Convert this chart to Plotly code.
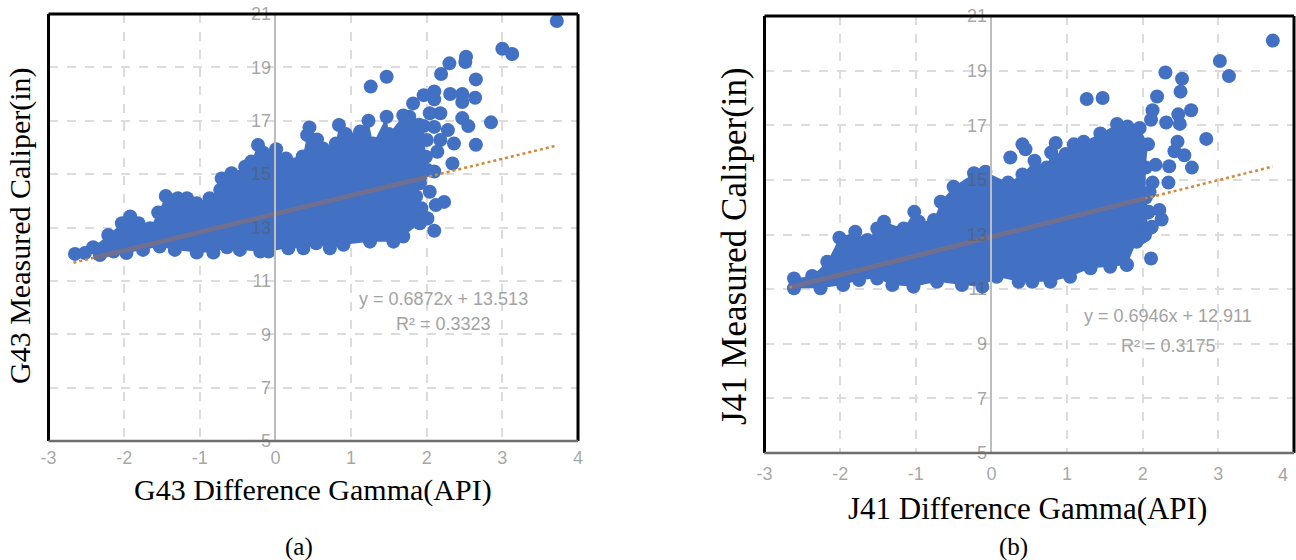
import plotly.graph_objects as go

W, H = 1296, 560
BLUE = "#4270c2"

# Panel (a): silhouette of the merged point mass, traced clockwise from the picture
a_cloud_x = [-2.65,-2.41,-2.21,-2.03,-1.92,-1.81,-1.66,-1.55,-1.45,-1.29,-1.17,-1.04,-0.87,-0.73,-0.71,-0.58,-0.40,-0.32,-0.23,-0.16,0.01,0.14,0.36,0.42,0.45,0.55,0.63,0.80,0.84,0.93,1.12,1.23,1.29,1.47,1.50,1.69,1.96,1.99,2.01,1.91,1.86,1.93,2.00,1.91,1.69,1.56,1.25,0.90,0.72,0.54,0.37,0.17,-0.09,-0.20,-0.47,-0.64,-0.82,-1.04,-1.33,-1.53,-1.75,-1.97,-2.14,-2.32,-2.52]
a_cloud_y = [12.01,12.26,12.72,13.16,13.41,13.16,12.97,13.56,14.18,14.10,14.10,13.91,14.10,14.41,14.84,15.03,15.28,15.47,16.09,15.80,15.93,15.59,15.66,16.46,16.75,16.30,15.96,16.15,16.84,16.50,16.60,17.00,16.15,17.15,16.50,17.20,16.80,15.65,15.15,14.66,14.16,13.72,13.35,13.16,12.66,12.47,12.47,12.35,12.22,12.41,12.22,12.22,12.10,12.10,12.16,12.26,12.06,12.06,12.16,12.29,12.16,12.04,12.10,11.97,12.04]
# Panel (a): separately readable points
a_out_x = [3.72,3.00,3.13,2.52,2.51,2.30,2.19,2.65,1.47,1.26,2.64,2.47,2.47,2.31,2.10,1.96,1.82,2.10,2.85,2.65,2.34,2.10,2.10,2.04,2.23,2.12,2.01,2.47,2.55,2.36,2.28,2.18,2.04,2.14,2.00,2.18,2.10,1.77,1.90,1.69]
a_out_y = [20.74,19.70,19.50,19.40,19.20,19.15,18.75,18.55,18.65,18.28,17.86,18.00,17.70,18.00,18.10,17.96,17.65,17.80,16.94,16.10,15.40,15.10,12.88,14.34,13.96,13.84,13.34,17.10,16.80,16.15,16.65,17.28,17.28,15.84,16.28,16.28,16.77,17.15,16.85,16.40]
a_fit_x = [-2.67, 3.72]
a_fit_y = [11.68, 16.07]
a_fit_in_x = [-2.40, 2.00]
a_fit_in_y = [11.86, 14.89]

# Panel (b)
b_cloud_x = [-2.61,-2.37,-2.17,-2.01,-1.80,-1.64,-1.51,-1.42,-1.16,-1.02,-0.96,-0.76,-0.67,-0.50,-0.23,-0.08,0.22,0.41,0.57,0.73,0.79,0.98,1.09,1.22,1.44,1.66,1.80,1.96,2.07,2.04,2.04,2.08,1.97,2.12,2.03,1.92,1.79,1.57,1.31,1.04,0.78,0.54,0.36,0.07,-0.12,-0.39,-0.72,-1.03,-1.31,-1.51,-1.75,-1.96,-2.26,-2.61]
b_cloud_y = [11.39,11.48,12.00,12.88,13.10,12.80,13.22,13.47,13.22,13.83,13.47,13.53,14.20,14.75,15.24,15.30,14.90,15.20,15.70,15.45,16.00,15.95,16.30,16.40,16.70,17.05,16.95,16.90,16.30,15.45,14.35,13.83,13.53,13.28,12.98,12.73,11.88,11.82,11.76,11.45,11.27,11.27,11.27,11.45,11.09,11.15,11.27,11.09,11.15,11.39,11.33,11.15,11.03,11.03]
b_out_x = [3.72,3.02,3.14,2.30,2.52,2.50,2.19,1.26,1.47,2.64,2.47,2.13,2.11,2.31,2.49,2.84,2.46,2.42,2.55,2.65,2.35,2.17,2.34,2.13,2.09,2.07,2.22,2.25,2.11,1.98,2.11,1.79,0.85,0.25,0.41,0.45]
b_out_y = [20.10,19.35,18.80,18.93,18.70,18.23,18.05,17.96,18.00,17.55,17.40,17.55,17.20,17.10,17.05,16.50,16.40,16.05,15.90,15.45,15.50,15.55,14.90,14.90,14.55,13.80,13.90,13.55,13.25,12.90,12.12,11.90,16.35,15.82,16.30,16.12]
b_fit_x = [-2.67, 3.72]
b_fit_y = [11.06, 15.49]
b_fit_in_x = [-2.64, 2.04]
b_fit_in_y = [11.08, 14.33]

x_ticks = [-3,-2,-1,0,1,2,3,4]
x_tick_text = ["-3","-2","-1","0","1","2","3","4"]
y_ticks = [5,7,9,11,13,15,17,19,21]
x_labels = {"a": "G43 Difference Gamma(API)", "b": "J41 Difference Gamma(API)"}
y_labels = {"a": "G43 Measured Caliper(in)", "b": "J41 Measured Caliper(in)"}
eqs = {"a": ["y = 0.6872x + 13.513", "R² = 0.3323"], "b": ["y = 0.6946x + 12.911", "R² = 0.3175"]}

boxes = {"a": (48.5, 578, 14, 441), "b": (764.5, 1294, 16, 453)}

fig = go.Figure()

def add_panel(xa, ya, cx, cy, ox, oy, fx, fy, fix, fiy):
    fig.add_trace(go.Scatter(x=cx, y=cy, xaxis=xa, yaxis=ya, mode="markers", fill="toself",
                             fillcolor=BLUE, line=dict(width=0), marker=dict(color=BLUE, size=14),
                             showlegend=False))
    fig.add_trace(go.Scatter(x=ox, y=oy, xaxis=xa, yaxis=ya, mode="markers",
                             marker=dict(color=BLUE, size=14), showlegend=False))
    fig.add_trace(go.Scatter(x=fx, y=fy, xaxis=xa, yaxis=ya, mode="lines",
                             line=dict(color="#d0883a", width=2.5, dash="dot"), showlegend=False))
    fig.add_trace(go.Scatter(x=fix, y=fiy, xaxis=xa, yaxis=ya, mode="lines",
                             line=dict(color="#6f6f92", width=5), showlegend=False))

add_panel("x", "y", a_cloud_x, a_cloud_y, a_out_x, a_out_y, a_fit_x, a_fit_y, a_fit_in_x, a_fit_in_y)
add_panel("x2", "y2", b_cloud_x, b_cloud_y, b_out_x, b_out_y, b_fit_x, b_fit_y, b_fit_in_x, b_fit_in_y)

TICK = dict(family="Liberation Sans", size=18, color="rgba(90,90,90,0.55)")
GRID = dict(showgrid=True, gridcolor="#dcdcdc", griddash="dash", gridwidth=1.5, zeroline=False, automargin=False)

def axes(key, yname, standoff):
    l, r, t, b = boxes[key]
    xax = dict(domain=[l / W, r / W], range=[-3, 4], tickmode="array", tickvals=x_ticks, ticktext=x_tick_text,
               ticks="", tickfont=TICK, anchor=yname, ticklabelstandoff=standoff, **GRID)
    zero_x = (l + (r - l) * 3 / 7) / W
    yax = dict(domain=[(H - b) / H, (H - t) / H], range=[5, 21], tickvals=y_ticks, ticks="", tickfont=TICK,
               anchor="free", position=zero_x, showline=True, linecolor="#bdbdbd", linewidth=1.5, **GRID)
    return xax, yax

xa1, ya1 = axes("a", "y", 4)
xa2, ya2 = axes("b", "y2", 8)
fig.update_layout(width=W, height=H, margin=dict(l=0, r=0, t=0, b=0, autoexpand=False), paper_bgcolor="white",
                  plot_bgcolor="white", showlegend=False,
                  xaxis=xa1, yaxis=ya1, xaxis2=xa2, yaxis2=ya2)

shapes = []
for key, (xn, yn) in {"a": ("x", "y"), "b": ("x2", "y2")}.items():
    xr, yr = f"{xn} domain", f"{yn} domain"
    for (x0, y0, x1, y1, c, w) in [(0, 0, 0, 1, "#000000", 3), (0, 1, 1, 1, "#000000", 3), (1, 0, 1, 1, "#000000", 3), (0, 0, 1, 0, "#6e6e6e", 2.5)]:
        shapes.append(dict(type="line", xref=xr, yref=yr, x0=x0, y0=y0, x1=x1, y1=y1,
                           line=dict(color=c, width=w), layer="above"))
fig.update_layout(shapes=shapes)

SERIF = "Liberation Serif, Times New Roman, serif"
def note(text, px, py, size, color="#000000", family=SERIF, angle=0):
    fig.add_annotation(text=text, xref="paper", yref="paper", x=px / W, y=1 - py / H, xanchor="center",
                       yanchor="middle", showarrow=False, textangle=angle,
                       font=dict(family=family, size=size, color=color))

note(x_labels["a"], 313, 490, 30)
note(x_labels["b"], 1027, 508, 31)
note(y_labels["a"], 20, 226, 30, angle=-90)
note(y_labels["b"], 734, 246, 35, angle=-90)
note("(a)", 299, 547, 25)
note("(b)", 1013, 547, 25)
EQF = "Liberation Sans"
note(eqs["a"][0], 443, 299, 18, "#a3a3a3", EQF)
note(eqs["a"][1], 443, 324, 18, "#a3a3a3", EQF)
note(eqs["b"][0], 1168, 316, 18, "#a3a3a3", EQF)
note(eqs["b"][1], 1168, 346, 18, "#a3a3a3", EQF)
note(x_tick_text[-1], 1283, 475, 18, "#a3a3a3", EQF)  # last x tick of panel (b), at the page edge

fig.write_html("out.html", config={"displayModeBar": False},
               post_script="document.documentElement.style.margin='0';document.body.style.margin='0';")
